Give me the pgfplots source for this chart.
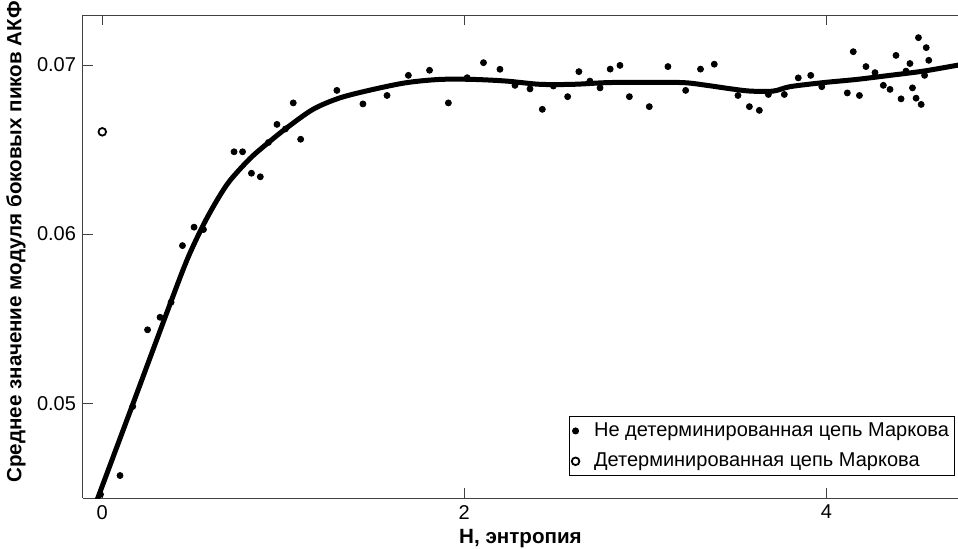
\documentclass[border=0pt]{standalone}
\usepackage{fontspec}
\setmainfont{Liberation Sans}
\usepackage{pgfplots}
\pgfplotsset{compat=1.18}
\pgfplotsset{myleg/.style={legend image code/.code={\path (-2pt,0pt) (7pt,0pt); \draw[mark repeat=2,mark phase=2,##1] plot coordinates {(-2pt,0pt)(0pt,0pt)(7pt,0pt)};}}}
\begin{document}
\begin{tikzpicture}
\begin{axis}[
  name=ax,
  scale only axis,
  width=437.5pt, height=241.5pt,
  xmin=-0.1066, xmax=4.7276,
  ymin=0.04439, ymax=0.07296,
  axis x line*=box, axis y line*=left,
  axis line style={black!75, line width=0.5pt},
  tick style={black!75, line width=0.5pt},
  tick align=inside, major tick length=5pt,
  xtick={0,2,4}, ytick={0.05,0.06,0.07},
  scaled y ticks=false,
  yticklabel style={/pgf/number format/.cd, fixed, precision=2, fixed zerofill},
  /pgf/number format/assume math mode=true,
  ticklabel style={font=\fontsize{10}{12}\selectfont},
  xlabel={Н, энтропия},
  ylabel={Среднее значение модуля боковых пиков АКФ},
  label style={font=\fontsize{10.3}{12}\selectfont\bfseries},
  xlabel style={at={(axis description cs:0.5,0)}, anchor=base, yshift=-22.5pt},
  ylabel style={at={(axis description cs:-0.0766,0.53)}, anchor=center},
  legend style={at={(axis description cs:0.9966,0.046)}, anchor=south east,
    draw=black, line width=0.5pt, font=\fontsize{10}{12}\selectfont,
    inner sep=0.8pt, row sep=2.8pt},
  legend cell align=left,
]
\addplot[only marks, mark=*, mark size=1.5pt, black, myleg] coordinates {
(-0.01,0.0446) (0.098,0.04572) (0.168,0.0498) (0.250,0.05434) (0.319,0.05508)
(0.380,0.05597) (0.443,0.05932) (0.507,0.06041) (0.559,0.06027) (0.728,0.06487)
(0.775,0.06487) (0.824,0.0636) (0.873,0.06339) (0.918,0.06542) (0.965,0.06649)
(1.012,0.06622) (1.055,0.06776) (1.096,0.06561) (1.296,0.0685) (1.440,0.0677)
(1.573,0.0682) (1.691,0.06939) (1.808,0.06969) (1.912,0.06776) (2.016,0.06925)
(2.106,0.07014) (2.197,0.06975) (2.280,0.0688) (2.363,0.06859) (2.431,0.06738)
(2.492,0.06876) (2.571,0.06813) (2.633,0.06961) (2.694,0.06905) (2.750,0.06865)
(2.806,0.06976) (2.860,0.06998) (2.912,0.06813) (3.022,0.06754) (3.125,0.06991)
(3.223,0.0685) (3.305,0.06976) (3.381,0.07005) (3.512,0.0682) (3.575,0.06754)
(3.630,0.06732) (3.680,0.06826) (3.768,0.06826) (3.845,0.06924) (3.914,0.06939)
(3.975,0.06872) (4.116,0.06835) (4.149,0.07079) (4.183,0.0682) (4.219,0.06991)
(4.269,0.06955) (4.315,0.0688) (4.352,0.06856) (4.385,0.07057) (4.413,0.068)
(4.440,0.06964) (4.462,0.07009) (4.476,0.06865) (4.496,0.06804) (4.509,0.07162)
(4.524,0.06767) (4.543,0.06939) (4.552,0.07103) (4.566,0.07028)
};
\addlegendentry{Не детерминированная цепь Маркова}
\addplot[only marks, mark=o, mark size=1.9pt, mark options={line width=0.9pt}, black, myleg] coordinates {(0,0.06605)};
\addlegendentry{Детерминированная цепь Маркова}
\addplot[black, line width=2.5pt, smooth, forget plot] coordinates {
(-0.04,0.04395) (-0.0221,0.044467) (0.1707,0.05) (0.3834,0.05612) (0.4735,0.05861)
(0.5619,0.06062) (0.6392,0.0621) (0.7055,0.06317) (0.8160,0.06447) (0.9182,0.06542)
(1.0149,0.06625) (1.1641,0.06738) (1.3133,0.06806) (1.497,0.06856) (1.682,0.06896)
(1.866,0.06915) (2.050,0.06915) (2.234,0.06905) (2.418,0.06886) (2.602,0.06886)
(2.787,0.06896) (2.971,0.06898) (3.210,0.06896) (3.339,0.0688) (3.468,0.0686)
(3.578,0.06846) (3.707,0.06846) (3.799,0.06872) (3.983,0.06896) (4.168,0.06915)
(4.352,0.06939) (4.536,0.06964) (4.720,0.06998) (4.76,0.07006)
};
\end{axis}
\pgfresetboundingbox
\path[use as bounding box] ([xshift=-41.5pt,yshift=-25pt]ax.south west) rectangle ([yshift=7.5pt]ax.north east);
\end{tikzpicture}
\end{document}
